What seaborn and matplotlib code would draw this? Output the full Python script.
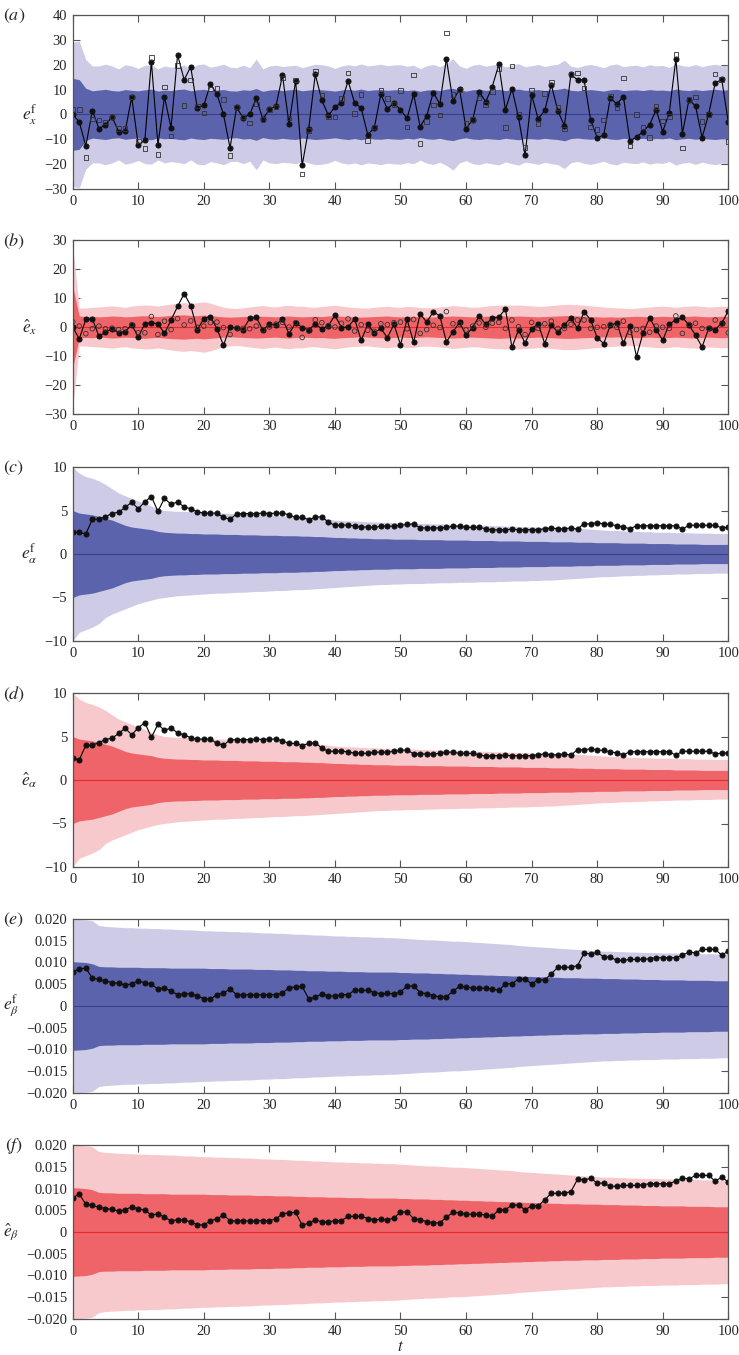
import numpy as np
import pandas as pd
import matplotlib
matplotlib.use('Agg')
import matplotlib.pyplot as plt
import seaborn as sns

# ---- data ----
t = np.arange(101)

# (a) forecast error of x: filled circles and open squares
ex_f = [0, -3, -12.7, 1.5, -5.7, -4.2, -1, -6.9, -6.8, 7,
        -12.3, -10.4, 21.2, -12.3, 7, -5.3, 24, 13.9, 19.2, 2.6,
        3.6, 12.2, 8.2, 0, -13.5, 2.8, -1.4, 0, 6.6, -1.9,
        2, 3.4, 15.7, -3.9, 13.6, -20.5, -5.7, 16.1, 5.7, -0.4,
        3, 4.7, 13.5, 4.7, 2.6, -8.1, -5.4, 8.1, 2.2, 4.6,
        1.9, -1.6, 8.1, -5, -0.5, 8.8, 4.2, 22.4, 5.3, 10.3,
        -5.7, -2.2, 9.2, 5.1, 11.2, 20.1, 1.9, 10.3, -1.2, -16.4,
        7.8, -1.8, 1.6, 12, 1.4, -4.5, 16.1, 13.9, 13.9, -2.2,
        -9.3, -8.4, 6.6, 4.2, 7.2, -10.7, -9.1, -6.9, -4.1, 1.9,
        -6.9, 0.7, 22.3, -7.7, 5.9, 3.4, -9.3, 0, 12.6, 14.1,
        -3.2]
ex_f_sq = [2, 2, -17.4, -1.8, -2.2, -3, -1, -5.7, -5.7, 7,
           -10.7, -13.6, 23, -16, 11, -8.6, 19.7, 3.5, 13.9, 3.4,
           0.5, 10.3, 10.5, 6, -16.5, 3, -1, -3.4, 4.2, -2,
           2, 3, 14.7, -1.5, 13.9, -24, -6.4, 17.4, 7.8, -1,
           -1, 6.5, 16.6, 0.4, 8.1, -10.4, -5, 9.6, 6.5, 3.9,
           9.6, -5, 15.8, -11.8, -2.8, 3.8, -0.3, 32.8, 8.1, 9.9,
           -3.6, -2, 6.6, 4, 9.2, 18.5, -5.3, 19.5, 0, -13.4,
           9.9, -3.6, 8.5, 13.1, 2.8, -5.8, 16, 16.6, 10.7, -5,
           -6.1, -2.2, 7.4, 2.8, 14.6, -12.7, 0, -5, -9.3, 3.1,
           -2.6, -0.8, 24, -13.5, 6, 7, -2.8, 0, 16.2, 14,
           -10.9]
a_light = [29, 29.5, 22, 19.5, 19.5, 20.2, 19.5, 18.3, 20, 19.5,
           18.5, 19.8, 20, 18.3, 19.5, 19, 19.3, 19.8, 18.3, 20,
           20.3, 19, 19.5, 20.2, 19, 18.8, 19.8, 18.8, 22.3, 18.3,
           19.5, 19.8, 19.3, 19.5, 19.8, 18.8, 19.5, 20.2, 20, 19.5,
           18.5, 19.5, 20, 19.5, 20.3, 19.5, 19.8, 20.2, 19.6, 19.9,
           20, 19.4, 19.8, 18.4, 19.6, 20.1, 19.2, 20.5, 22.4, 19.5,
           18.6, 19.8, 20.2, 19.4, 19.9, 20.3, 19.1, 19.8, 20.4, 19.2,
           19.6, 20.1, 19.3, 19.8, 20.2, 21.8, 19.4, 18.9, 19.7, 20.1,
           19.5, 18.8, 19.9, 20.3, 19.2, 19.6, 19.8, 19.1, 20, 19.5,
           19.7, 18.9, 20.4, 19.6, 19.3, 20.1, 19.2, 19.8, 20.2, 19.6,
           19.8]
a_dark = [14.5, 14, 10.5, 9.5, 9.8, 10.1, 9.6, 9.4, 10, 9.7,
          9.5, 9.9, 10.2, 9.4, 9.8, 9.6, 10, 10.2, 9.5, 9.9,
          10.1, 9.6, 9.8, 10, 9.5, 9.4, 9.9, 9.7, 10.4, 9.3,
          9.8, 10, 9.6, 9.9, 10.1, 9.5, 9.8, 10.1, 9.9, 9.7,
          9.4, 9.8, 10.1, 9.7, 10.2, 9.6, 9.9, 10, 9.7, 9.9,
          10, 9.6, 9.9, 9.3, 9.8, 10, 9.6, 10.2, 10.5, 9.8,
          9.4, 9.9, 10.1, 9.7, 9.9, 10.1, 9.6, 9.9, 10.2, 9.7,
          9.8, 10, 9.6, 9.9, 10.1, 10.6, 9.7, 9.5, 9.8, 10,
          9.7, 9.4, 9.9, 10.1, 9.6, 9.8, 9.9, 9.6, 10, 9.7,
          9.8, 9.5, 10.2, 9.8, 9.6, 10, 9.6, 9.9, 10.1, 9.8,
          9.9]

# (b) analysis error of x: filled and open circles
ex_hat = [0, -4.1, 2.6, 2.8, -3.2, -1.8, -0.6, -2, -1.6, 0.8,
          -3.4, 1.1, 1.5, 1.1, -2.2, 2.4, 7.1, 11.5, 7.4, -1,
          2.9, 3.6, -0.6, -6.3, 0.1, -0.5, -0.9, 3, 3.3, -1,
          0.9, 0.7, 2.8, -2.4, 1.5, -0.2, -1, 1.1, -0.7, 0.5,
          4, -0.2, 0, 2.8, -4.6, 0.9, -2, -0.5, -3.7, 0.9,
          -6.1, 2.6, -5.3, 4.6, 1.6, 5.3, 3.8, -5.1, -1.7, 1.6,
          -2.8, -0.2, 3.8, 0.9, 3.1, 3.4, 6.2, -7, -1, -5.5,
          -0.7, 1.1, -5.7, 0.6, -1.8, 0.8, 3.1, -0.5, 5.3, 2.4,
          -3.7, -5.7, 0.6, 1.4, -5.6, 0.2, -10.2, -2, 3.1, -0.9,
          -4.6, 1.1, 2.4, 3.3, 0.7, -2.8, -6.9, -0.5, -0.9, 1.4,
          5.5]
ex_hat_open = [1.8, 0.3, -2.3, -0.6, 0.3, -0.6, -0.4, -0.9, -0.6, 0.8,
               -2, -2, 3.6, -2.6, 2, -0.9, 2.9, 0.7, 2.1, -0.1,
               0.3, 1.5, 1.7, -0.2, -2.6, -0.4, -0.5, -0.6, 0.3, -1,
               0, 1, 1.6, 0, 1.5, -3.6, -1.4, 2.5, 1.5, 0.5,
               0, 1.3, 2.8, -1.4, 0.8, -1.1, -1.5, 1.1, 0.8, 1.5,
               1.7, -0.6, 2.6, -2.2, -0.9, 0.6, -0.2, 5.3, 1.1, 0.9,
               -1, 0.3, 1.4, -0.1, 1.3, 1.6, -0.5, 2.4, 0.1, -2.6,
               1.6, -0.5, 1.1, 2, -0.5, -0.5, 0.9, 2.4, 2.4, -0.5,
               -0.1, 0.1, 0.9, -0.1, 2, -1.8, -0.9, -0.5, -1.8, 0.3,
               -0.1, -0.5, 3.8, -2.2, 0.9, 1.3, -0.5, -0.5, 2.4, 1,
               -2]
b_light = [28, 6.5, 6.6, 6.8, 6.9, 7.1, 7.3, 7, 6.8, 7.2,
           7.4, 7.6, 7.5, 7.2, 7.6, 7.9, 8.2, 8.4, 8.1, 8.4,
           8.7, 8.2, 7.5, 6.8, 6.5, 6.4, 6.6, 6.9, 7.2, 7.4,
           7.1, 6.9, 7.3, 7.5, 7.2, 7.2, 6.9, 6.8, 7.1, 7.3,
           7.5, 7.2, 6.9, 6.7, 6.6, 6.5, 6.8, 7, 7.2, 6.9,
           6.8, 7.1, 7, 6.7, 6.6, 6.7, 6.9, 7.1, 7.4, 7.2,
           7, 6.8, 6.9, 7.2, 7.4, 7.5, 7.6, 7.5, 7.6, 7.4,
           7.3, 7.1, 7.2, 7.4, 7.6, 7.8, 7.8, 7.7, 7.5, 7.3,
           7.1, 6.9, 6.7, 6.6, 6.5, 6.4, 6.5, 6.7, 6.9, 7.1,
           7.2, 7, 6.8, 7, 7.2, 7.3, 7.1, 6.9, 7, 7.2,
           7.1]
b_dark = [14, 3.8, 3.6, 3.7, 3.5, 3.6, 3.8, 3.7, 3.5, 3.6,
          3.8, 3.9, 3.7, 3.6, 3.8, 4, 4.1, 4.2, 4, 3.9,
          4.1, 3.9, 3.7, 3.5, 3.4, 3.5, 3.6, 3.7, 3.8, 3.7,
          3.6, 3.5, 3.7, 3.8, 3.6, 3.5, 3.6, 3.7, 3.6, 3.8,
          3.9, 3.7, 3.6, 3.5, 3.4, 3.5, 3.6, 3.7, 3.8, 3.6,
          3.5, 3.6, 3.7, 3.5, 3.4, 3.5, 3.6, 3.7, 3.8, 3.7,
          3.6, 3.5, 3.6, 3.7, 3.8, 3.9, 3.8, 3.7, 3.8, 3.7,
          3.6, 3.5, 3.6, 3.7, 3.8, 3.9, 3.9, 3.8, 3.7, 3.6,
          3.5, 3.4, 3.5, 3.4, 3.5, 3.6, 3.7, 3.6, 3.5, 3.6,
          3.7, 3.6, 3.5, 3.6, 3.7, 3.8, 3.6, 3.5, 3.6, 3.7,
          3.6]

# (c), (d) alpha errors
ea_f = [2.5, 2.5, 2.3, 4, 4, 4.3, 4.65, 4.8, 5.35, 5.95,
        5.2, 6, 6.6, 4.9, 6.4, 5.7, 6, 5.4, 5.2, 4.85,
        4.7, 4.7, 4.7, 4.2, 4.0, 4.6, 4.65, 4.65, 4.65, 4.7,
        4.65, 4.7, 4.7, 4.5, 4.2, 4.2, 3.95, 4.2, 4.3, 3.65,
        3.3, 3.3, 3.35, 3.2, 3.1, 3.1, 3.05, 3.2, 3.2, 3.2,
        3.3, 3.4, 3.45, 3.0, 3.0, 3.0, 3.0, 3.05, 3.2, 3.2,
        3.05, 3.05, 3.05, 2.9, 2.75, 2.8, 2.8, 2.85, 2.8, 2.8,
        2.8, 2.8, 2.9, 3.0, 2.9, 2.9, 3.0, 2.85, 3.5, 3.45,
        3.6, 3.45, 3.4, 3.25, 3.1, 2.9, 3.25, 3.25, 3.25, 3.25,
        3.25, 3.25, 3.25, 2.85, 3.3, 3.3, 3.3, 3.3, 3.3, 3.0,
        3.1]
ea_hat = [2.5, 2.3, 4, 4, 4.3, 4.65, 4.8, 5.35, 5.95, 5.2,
          6, 6.6, 4.9, 6.4, 5.7, 6, 5.4, 5.2, 4.85, 4.7,
          4.7, 4.7, 4.2, 4.0, 4.6, 4.65, 4.65, 4.65, 4.7, 4.65,
          4.7, 4.7, 4.5, 4.2, 4.2, 3.95, 4.2, 4.3, 3.65, 3.3,
          3.3, 3.35, 3.2, 3.1, 3.1, 3.05, 3.2, 3.2, 3.2, 3.3,
          3.4, 3.45, 3.0, 3.0, 3.0, 3.0, 3.05, 3.2, 3.2, 3.05,
          3.05, 3.05, 2.9, 2.75, 2.8, 2.8, 2.85, 2.8, 2.8, 2.8,
          2.8, 2.9, 3.0, 2.9, 2.9, 3.0, 2.85, 3.5, 3.45, 3.6,
          3.45, 3.4, 3.25, 3.1, 2.9, 3.25, 3.25, 3.25, 3.25, 3.25,
          3.25, 3.25, 2.85, 3.3, 3.3, 3.3, 3.3, 3.3, 3.0, 3.1,
          3.1]
al_light_hi = [10, 9.3, 8.9, 8.7, 8.4, 8.0, 7.5, 7.0, 6.7, 6.4,
               6.1, 5.8, 5.5, 5.2, 5.0, 4.95, 4.9, 4.9, 4.85, 4.8,
               4.8, 4.75, 4.7, 4.7, 4.65, 4.6, 4.6, 4.55, 4.5, 4.5,
               4.45, 4.4, 4.4, 4.35, 4.3, 4.3, 4.25, 4.2, 4.1, 4.0,
               3.9, 3.85, 3.8, 3.8, 3.75, 3.7, 3.7, 3.65, 3.65, 3.6,
               3.6, 3.55, 3.55, 3.5, 3.5, 3.45, 3.45, 3.45, 3.4, 3.4,
               3.35, 3.35, 3.3, 3.3, 3.25, 3.25, 3.2, 3.2, 3.15, 3.15,
               3.1, 3.1, 3.05, 3.05, 3.0, 3.0, 2.95, 2.95, 2.9, 2.85,
               2.8, 2.75, 2.7, 2.7, 2.65, 2.6, 2.6, 2.55, 2.55, 2.5,
               2.5, 2.5, 2.45, 2.45, 2.45, 2.4, 2.4, 2.4, 2.35, 2.35,
               2.35]
al_light_lo = [10, 9.0, 8.7, 8.4, 8.0, 7.3, 6.9, 6.6, 6.3, 6.0,
               5.7, 5.5, 5.3, 5.1, 5.0, 4.9, 4.8, 4.75, 4.7, 4.65,
               4.6, 4.55, 4.5, 4.5, 4.45, 4.4, 4.4, 4.35, 4.3, 4.3,
               4.25, 4.2, 4.2, 4.15, 4.1, 4.1, 4.05, 4.0, 3.95, 3.9,
               3.85, 3.8, 3.75, 3.7, 3.65, 3.6, 3.55, 3.5, 3.5, 3.45,
               3.45, 3.4, 3.4, 3.4, 3.35, 3.35, 3.3, 3.3, 3.3, 3.25,
               3.25, 3.25, 3.2, 3.2, 3.2, 3.15, 3.15, 3.1, 3.1, 3.1,
               3.05, 3.05, 3.0, 3.0, 2.95, 2.9, 2.85, 2.8, 2.75, 2.7,
               2.65, 2.6, 2.6, 2.55, 2.5, 2.5, 2.45, 2.45, 2.4, 2.4,
               2.35, 2.35, 2.3, 2.3, 2.3, 2.25, 2.25, 2.25, 2.2, 2.2,
               2.2]
al_dark = [5, 4.7, 4.6, 4.5, 4.3, 4.1, 3.9, 3.6, 3.3, 3.1,
           3.0, 2.9, 2.8, 2.6, 2.5, 2.45, 2.4, 2.4, 2.35, 2.35,
           2.3, 2.3, 2.3, 2.25, 2.25, 2.25, 2.2, 2.2, 2.2, 2.15,
           2.15, 2.15, 2.1, 2.1, 2.1, 2.05, 2.05, 2.0, 2.0, 1.95,
           1.9, 1.9, 1.85, 1.85, 1.8, 1.8, 1.75, 1.75, 1.75, 1.7,
           1.7, 1.7, 1.7, 1.65, 1.65, 1.65, 1.65, 1.6, 1.6, 1.6,
           1.6, 1.55, 1.55, 1.55, 1.55, 1.5, 1.5, 1.5, 1.5, 1.45,
           1.45, 1.45, 1.45, 1.4, 1.4, 1.4, 1.4, 1.35, 1.35, 1.35,
           1.3, 1.3, 1.3, 1.3, 1.25, 1.25, 1.25, 1.25, 1.2, 1.2,
           1.2, 1.2, 1.15, 1.15, 1.15, 1.15, 1.1, 1.1, 1.1, 1.1,
           1.1]

# (e), (f) beta errors
eb_f = [0.0079, 0.0085, 0.0087, 0.0064, 0.0061, 0.0057, 0.0054, 0.0052, 0.0048, 0.0051,
        0.0058, 0.0053, 0.0050, 0.0039, 0.0042, 0.0034, 0.0026, 0.0028, 0.0028, 0.0023,
        0.0017, 0.0016, 0.0026, 0.0030, 0.0039, 0.0026, 0.0025, 0.0026, 0.0025, 0.0026,
        0.0026, 0.0026, 0.0030, 0.0042, 0.0044, 0.0045, 0.0016, 0.0020, 0.0028, 0.0023,
        0.0023, 0.0026, 0.0026, 0.0036, 0.0036, 0.0036, 0.0031, 0.0028, 0.0029, 0.0028,
        0.0032, 0.0046, 0.0046, 0.0031, 0.0028, 0.0024, 0.0021, 0.0021, 0.0034, 0.0045,
        0.0044, 0.0041, 0.0041, 0.0041, 0.0039, 0.0036, 0.0051, 0.0051, 0.0062, 0.0062,
        0.0051, 0.0060, 0.0060, 0.0074, 0.0089, 0.0089, 0.0089, 0.0093, 0.0121, 0.0120,
        0.0123, 0.0113, 0.0112, 0.0105, 0.0105, 0.0107, 0.0107, 0.0107, 0.0109, 0.0111,
        0.0111, 0.0111, 0.0111, 0.0117, 0.0124, 0.0122, 0.0130, 0.0130, 0.0130, 0.0117,
        0.0126]
eb_hat = [0.0079, 0.0087, 0.0064, 0.0061, 0.0057, 0.0054, 0.0052, 0.0048, 0.0051, 0.0058,
          0.0053, 0.0050, 0.0039, 0.0042, 0.0034, 0.0026, 0.0028, 0.0028, 0.0023, 0.0017,
          0.0016, 0.0026, 0.0030, 0.0039, 0.0026, 0.0025, 0.0026, 0.0025, 0.0026, 0.0026,
          0.0026, 0.0030, 0.0042, 0.0044, 0.0045, 0.0016, 0.0020, 0.0028, 0.0023, 0.0023,
          0.0026, 0.0026, 0.0036, 0.0036, 0.0036, 0.0031, 0.0028, 0.0029, 0.0028, 0.0032,
          0.0046, 0.0046, 0.0031, 0.0028, 0.0024, 0.0021, 0.0021, 0.0034, 0.0045, 0.0044,
          0.0041, 0.0041, 0.0041, 0.0039, 0.0036, 0.0051, 0.0051, 0.0062, 0.0062, 0.0051,
          0.0060, 0.0060, 0.0074, 0.0089, 0.0089, 0.0089, 0.0093, 0.0121, 0.0120, 0.0123,
          0.0113, 0.0112, 0.0105, 0.0105, 0.0107, 0.0107, 0.0107, 0.0109, 0.0111, 0.0111,
          0.0111, 0.0111, 0.0117, 0.0124, 0.0122, 0.0130, 0.0130, 0.0130, 0.0117, 0.0126,
          0.0115]
be_light = [0.0200, 0.0199, 0.0198, 0.0196, 0.0185, 0.0183, 0.0182, 0.0181, 0.0180, 0.0180,
            0.0179, 0.0179, 0.0178, 0.0178, 0.0177, 0.0177, 0.0176, 0.0175, 0.0175, 0.0174,
            0.0173, 0.0173, 0.0172, 0.0172, 0.0171, 0.0171, 0.0170, 0.0170, 0.0169, 0.0168,
            0.0168, 0.0167, 0.0167, 0.0166, 0.0165, 0.0165, 0.0164, 0.0163, 0.0163, 0.0162,
            0.0161, 0.0161, 0.0160, 0.0160, 0.0159, 0.0159, 0.0158, 0.0158, 0.0157, 0.0157,
            0.0156, 0.0155, 0.0154, 0.0153, 0.0152, 0.0152, 0.0151, 0.0150, 0.0149, 0.0149,
            0.0148, 0.0147, 0.0146, 0.0145, 0.0144, 0.0143, 0.0142, 0.0141, 0.0139, 0.0138,
            0.0137, 0.0136, 0.0135, 0.0134, 0.0133, 0.0132, 0.0131, 0.0130, 0.0129, 0.0128,
            0.0127, 0.0126, 0.0126, 0.0125, 0.0125, 0.0124, 0.0124, 0.0123, 0.0123, 0.0123,
            0.0122, 0.0122, 0.0122, 0.0121, 0.0121, 0.0121, 0.0120, 0.0120, 0.0120, 0.0119,
            0.0119]
be_dark = [0.0102, 0.0101, 0.0100, 0.0097, 0.0091, 0.0090, 0.0090, 0.0089, 0.0089, 0.0089,
           0.0089, 0.0088, 0.0088, 0.0088, 0.0088, 0.0087, 0.0087, 0.0087, 0.0087, 0.0087,
           0.0087, 0.0086, 0.0086, 0.0086, 0.0085, 0.0085, 0.0085, 0.0085, 0.0084, 0.0084,
           0.0084, 0.0083, 0.0083, 0.0083, 0.0082, 0.0082, 0.0081, 0.0081, 0.0081, 0.0080,
           0.0080, 0.0080, 0.0079, 0.0079, 0.0079, 0.0078, 0.0078, 0.0078, 0.0078, 0.0078,
           0.0077, 0.0077, 0.0076, 0.0076, 0.0076, 0.0075, 0.0075, 0.0074, 0.0074, 0.0073,
           0.0073, 0.0072, 0.0072, 0.0071, 0.0071, 0.0070, 0.0070, 0.0069, 0.0069, 0.0068,
           0.0068, 0.0067, 0.0067, 0.0066, 0.0066, 0.0065, 0.0065, 0.0065, 0.0064, 0.0064,
           0.0064, 0.0063, 0.0063, 0.0063, 0.0062, 0.0062, 0.0062, 0.0061, 0.0061, 0.0061,
           0.0060, 0.0060, 0.0060, 0.0060, 0.0059, 0.0059, 0.0059, 0.0059, 0.0058, 0.0058,
           0.0058]

# ---- style ----
sns.set_style('ticks')
plt.rcParams['font.family'] = ['Liberation Serif', 'DejaVu Serif']
plt.rcParams['mathtext.fontset'] = 'stix'

BLUE = dict(dark='#5c63ad', light='#cdcbe5', zero='#3a3f8c')
RED = dict(dark='#ee6468', light='#f7c9cc', zero='#e8282c')

fig = plt.figure(figsize=(7.39, 13.55), dpi=100)
W, H = 739.0, 1355.0
left, right = 72.7, 728.3
tops = [15, 240, 467, 693, 919, 1145]
ax_h = 174

beta_ticks = [0.02, 0.015, 0.01, 0.005, 0, -0.005, -0.01, -0.015, -0.02]
beta_lbls = ['0.020', '0.015', '0.010', '0.005', '0', '\u22120.005', '\u22120.010',
             '\u22120.015', '\u22120.020']

panels = [
    dict(tag='(a)', lab=r'$e_x^{\rm f}$', col=BLUE, y=ex_f, y2=ex_f_sq, m2='s',
         up=a_light, lo=a_light, dk=a_dark, ylim=(-30, 40), yt=list(range(-30, 41, 10))),
    dict(tag='(b)', lab=r'$\hat{e}_x$', col=RED, y=ex_hat, y2=ex_hat_open, m2='o',
         up=b_light, lo=b_light, dk=b_dark, ylim=(-30, 30), yt=list(range(-30, 31, 10))),
    dict(tag='(c)', lab=r'$e_\alpha^{\rm f}$', col=BLUE, y=ea_f, y2=None, m2=None,
         up=al_light_hi, lo=al_light_lo, dk=al_dark, ylim=(-10, 10), yt=[-10, -5, 0, 5, 10]),
    dict(tag='(d)', lab=r'$\hat{e}_\alpha$', col=RED, y=ea_hat, y2=None, m2=None,
         up=al_light_hi, lo=al_light_lo, dk=al_dark, ylim=(-10, 10), yt=[-10, -5, 0, 5, 10]),
    dict(tag='(e)', lab=r'$e_\beta^{\rm f}$', col=BLUE, y=eb_f, y2=None, m2=None,
         up=be_light, lo=be_light, dk=be_dark, ylim=(-0.02, 0.02), yt=beta_ticks),
    dict(tag='(f)', lab=r'$\hat{e}_\beta$', col=RED, y=eb_hat, y2=None, m2=None,
         up=be_light, lo=be_light, dk=be_dark, ylim=(-0.02, 0.02), yt=beta_ticks),
]

for i, p in enumerate(panels):
    top = tops[i]
    ax = fig.add_axes([left / W, 1 - (top + ax_h) / H, (right - left) / W, ax_h / H])
    up = np.array(p['up'])
    lo = np.array(p['lo'])
    dk = np.array(p['dk'])
    ax.fill_between(t, -lo, up, color=p['col']['light'], lw=0)
    ax.fill_between(t, -dk, dk, color=p['col']['dark'], lw=0)
    ax.axhline(0, color=p['col']['zero'], lw=0.8)

    df = pd.DataFrame({'t': t, 'v': p['y']})
    sns.lineplot(data=df, x='t', y='v', ax=ax, color='k', lw=0.8, marker='o',
                 markersize=3.6, markeredgecolor='#111', markerfacecolor='#111',
                 errorbar=None)
    if p['y2'] is not None:
        sns.scatterplot(x=t, y=p['y2'], ax=ax, marker=p['m2'], s=11,
                        facecolors='none', edgecolors='#333', linewidths=0.6, zorder=4)

    ax.set_xlim(0, 100)
    ax.set_ylim(*p['ylim'])
    ax.set_xticks(range(0, 101, 10))
    ax.set_yticks(p['yt'])
    if p['ylim'][1] == 0.02:
        ax.set_yticklabels(beta_lbls)
    ax.tick_params(direction='in', top=True, right=True, length=5, width=0.8,
                   color='#555', labelsize=10.5, pad=4)
    for s in ax.spines.values():
        s.set_color('#555')
        s.set_linewidth(0.9)
    ax.set_ylabel(p['lab'], rotation=0, fontsize=12.5, va='center', ha='right',
                  labelpad=5)
    # label sits level with the zero line
    y0, y1 = p['ylim']
    ax.yaxis.label.set_y((0 - y0) / (y1 - y0))
    if i == 5:
        ax.set_xlabel('$t$', fontsize=12, labelpad=1)
    else:
        ax.set_xlabel('')
    fig.text(14 / W, 1 - (top + 1) / H, '$' + p['tag'] + '$', fontsize=13,
             ha='center', va='center')

fig.savefig('out.png', dpi=100)
